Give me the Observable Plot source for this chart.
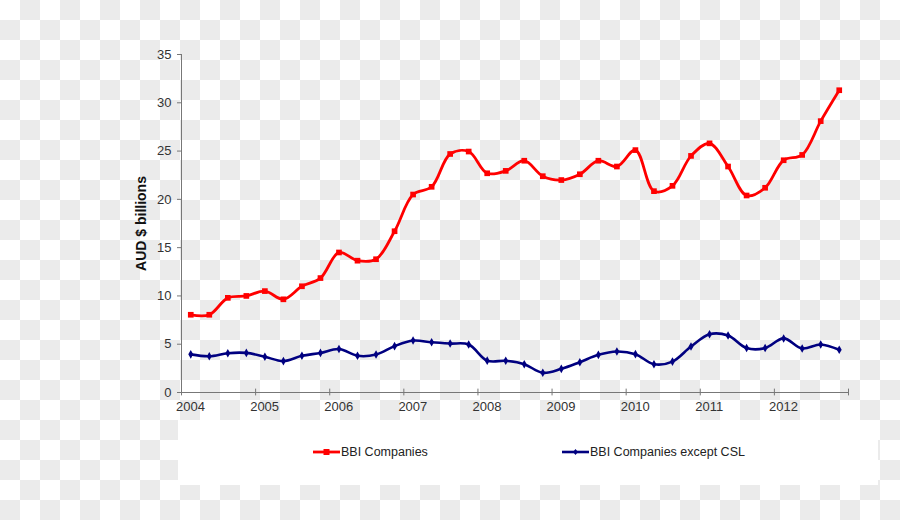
<!DOCTYPE html>
<html>
<head>
<meta charset="utf-8">
<script src="https://cdn.jsdelivr.net/npm/d3@7"></script>
<script src="https://cdn.jsdelivr.net/npm/@observablehq/plot@0.6"></script>
<style>
  html, body { margin: 0; padding: 0; }
  body {
    width: 900px; height: 520px; overflow: hidden;
    background-color: #fff;
    background-image: conic-gradient(#ebebeb 0 25%, #fff 0 50%, #ebebeb 0 75%, #fff 0);
    background-size: 40px 40px;
    font-family: "Liberation Sans", Arial, sans-serif;
  }
  #legend {
    position: relative; margin-left: 178px; width: 700px; height: 65px;
    background: #fff; font-size: 12.5px; color: #222;
  }
  .item { position: absolute; top: 24px; display: flex; align-items: center; }
  .item svg { display: block; }
</style>
</head>
<body>
<div id="chart"></div>
<div id="legend"></div>
<script>
// Quarterly observations (mid-quarter)
const quarters = [
  "2004-Q1","2004-Q2","2004-Q3","2004-Q4",
  "2005-Q1","2005-Q2","2005-Q3","2005-Q4",
  "2006-Q1","2006-Q2","2006-Q3","2006-Q4",
  "2007-Q1","2007-Q2","2007-Q3","2007-Q4",
  "2008-Q1","2008-Q2","2008-Q3","2008-Q4",
  "2009-Q1","2009-Q2","2009-Q3","2009-Q4",
  "2010-Q1","2010-Q2","2010-Q3","2010-Q4",
  "2011-Q1","2011-Q2","2011-Q3","2011-Q4",
  "2012-Q1","2012-Q2","2012-Q3","2012-Q4"
];
const bbiCompanies = [
  8.05, 8.05, 9.8, 10.0, 10.5, 9.65, 11.0, 11.85,
  14.5, 13.65, 13.8, 16.7, 20.5, 21.3, 24.7, 24.95,
  22.7, 22.95, 24.0, 22.4, 22.0, 22.6, 24.0, 23.4,
  25.1, 20.85, 21.4, 24.5, 25.8, 23.4, 20.4, 21.2,
  24.05, 24.6, 28.1, 31.3
];
const bbiExceptCSL = [
  3.95, 3.75, 4.07, 4.1, 3.7, 3.25, 3.8, 4.1,
  4.5, 3.8, 3.93, 4.8, 5.38, 5.2, 5.07, 4.97,
  3.3, 3.28, 2.93, 2.04, 2.45, 3.14, 3.9, 4.25,
  3.97, 2.93, 3.2, 4.76, 6.04, 5.9, 4.6, 4.6,
  5.6, 4.56, 4.97, 4.42
];
const seriesNames = ["BBI Companies", "BBI Companies except CSL"];
const seriesColors = ["#ff0000", "#000080"];
const yearTicks = [2004, 2005, 2006, 2007, 2008, 2009, 2010, 2011, 2012, 2013];
const yTicks = [0, 5, 10, 15, 20, 25, 30, 35];

const toYear = q => { const [y, qq] = q.split("-Q"); return +y + (+qq - 1) * 0.25 + 0.125; };
const data = [];
quarters.forEach((q, i) => {
  data.push({t: toYear(q), v: bbiCompanies[i], s: seriesNames[0]});
  data.push({t: toYear(q), v: bbiExceptCSL[i], s: seriesNames[1]});
});
const red = data.filter(d => d.s === seriesNames[0]);
const blue = data.filter(d => d.s === seriesNames[1]);

const axisColor = "#777";
const chart = Plot.plot({
  width: 900,
  height: 420,
  marginLeft: 181,
  marginRight: 52,
  marginTop: 54,
  marginBottom: 28,
  style: {background: "transparent", fontFamily: "'Liberation Sans', Arial, sans-serif", fontSize: "13px", color: "#333"},
  x: {domain: [2004, 2013]},
  y: {domain: [0, 35]},
  marks: [
    Plot.axisY({ticks: yTicks, tickSize: 4, tickPadding: 6, stroke: axisColor, label: null, fill: "#333"}),
    Plot.axisX({ticks: yearTicks.slice(0, -1), tickSize: 0, tickPadding: 9, dx: 9, tickFormat: d => String(d), label: null, fill: "#333"}),
    Plot.ruleX(yearTicks, {x: d => d, y1: -0.35, y2: 0.35, stroke: axisColor}),
    Plot.ruleY([0], {stroke: axisColor}),
    Plot.ruleX([2004], {stroke: axisColor}),
    Plot.text(["AUD $ billions"], {frameAnchor: "left", textAnchor: "middle", dx: -40, rotate: -90, fontWeight: "bold", fontSize: 14, fill: "#111"}),
    Plot.line(blue, {x: "t", y: "v", stroke: seriesColors[1], strokeWidth: 2.6, curve: "catmull-rom"}),
    Plot.dot(blue, {x: "t", y: "v", symbol: "diamond", r: 2.6, fill: seriesColors[1]}),
    Plot.line(red, {x: "t", y: "v", stroke: seriesColors[0], strokeWidth: 2.8, curve: "catmull-rom"}),
    Plot.dot(red, {x: "t", y: "v", symbol: "square", r: 3.2, fill: seriesColors[0]})
  ]
});
document.getElementById("chart").appendChild(chart);

// Legend
const legend = document.getElementById("legend");
const lefts = [135, 384];
seriesNames.forEach((name, i) => {
  const item = document.createElement("div");
  item.className = "item";
  item.style.left = lefts[i] + "px";
  const marker = i === 0
    ? `<rect x="10.5" y="5" width="6" height="6" fill="${seriesColors[i]}"/>`
    : `<path d="M13.5 5 L16 8 L13.5 11 L11 8 Z" fill="${seriesColors[i]}"/>`;
  item.innerHTML = `<svg width="28" height="16"><line x1="0" x2="27" y1="8" y2="8" stroke="${seriesColors[i]}" stroke-width="${i === 0 ? 2.8 : 2.6}"/>${marker}</svg><span>${name}</span>`;
  legend.appendChild(item);
});
</script>
</body>
</html>
